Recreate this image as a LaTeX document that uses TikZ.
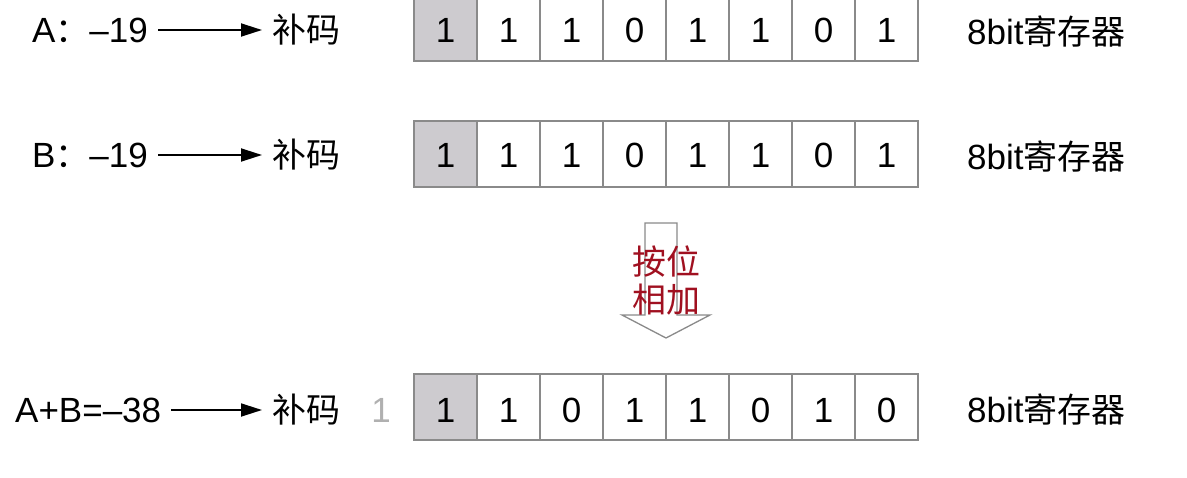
\documentclass[tikz,border=0pt]{standalone}
\usepackage{fontspec}
\setmainfont{Liberation Sans}
\newfontfamily\cjk[Scale=0.97]{Noto Sans CJK SC}
\usetikzlibrary{arrows.meta}
\definecolor{cellgray}{HTML}{CDCBCF}
\definecolor{cellline}{HTML}{8A8A8A}
\definecolor{darkred}{HTML}{A01020}
\definecolor{fadegray}{HTML}{B0B0B0}
\tikzset{
  txt/.style={inner sep=0pt, text height=25pt, text depth=0pt, font=\fontsize{35}{38}\selectfont},
  cell/.style={draw=cellline, line width=1.2pt, minimum width=63pt, minimum height=66pt, inner sep=0pt, anchor=center},
  sign/.style={cell, fill=cellgray},
  arr/.style={-{Triangle[length=21pt,width=13pt]}, line width=1.8pt, shorten <=10pt, shorten >=10pt},
}
\begin{document}
\begin{tikzpicture}[x=1pt,y=-1pt]
\useasboundingbox (0,0) rectangle (1187,477);
% row labels
\node[txt, anchor=west] (la) at (32,30) {A{\cjk ：}–19};
\node[txt, anchor=west] (lb) at (32,155) {B{\cjk ：}–19};
\node[txt, anchor=west] (lc) at (15,410) {A+B=–38};
\node[txt, anchor=west] (ba) at (272,30) {\cjk 补码};
\node[txt, anchor=west] (bb) at (272,155) {\cjk 补码};
\node[txt, anchor=west] (bc) at (272,410) {\cjk 补码};
\draw[arr] (la) -- (ba);
\draw[arr] (lb) -- (bb);
\draw[arr] (lc) -- (bc);
% registers
\foreach \v [count=\i from 0] in {1,1,1,0,1,1,0,1} {
  \ifnum\i=0
    \node[sign, minimum height=72pt] (a\i) at ({445.5+63*\i},25) {};
  \else
    \node[cell, minimum height=72pt] (a\i) at ({445.5+63*\i},25) {};
  \fi
  \node[txt] at ({445.5+63*\i},30) {\v};
}
\foreach \v [count=\i from 0] in {1,1,1,0,1,1,0,1} {
  \ifnum\i=0
    \node[sign] (b\i) at ({445.5+63*\i},154) {};
  \else
    \node[cell] (b\i) at ({445.5+63*\i},154) {};
  \fi
  \node[txt] at ({445.5+63*\i},155) {\v};
}
\foreach \v [count=\i from 0] in {1,1,0,1,1,0,1,0} {
  \ifnum\i=0
    \node[sign] (c\i) at ({445.5+63*\i},407) {};
  \else
    \node[cell] (c\i) at ({445.5+63*\i},407) {};
  \fi
  \node[txt] at ({445.5+63*\i},410) {\v};
}
\node[txt, text=fadegray] (carry) at (381,410) {1};
% register labels
\node[txt, anchor=west] (ra) at (967,32) {8bit{\cjk 寄存器}};
\node[txt, anchor=west] (rb) at (967,157) {8bit{\cjk 寄存器}};
\node[txt, anchor=west] (rc) at (967,410) {8bit{\cjk 寄存器}};
% big arrow
\draw[cellline, line width=1.3pt, fill=white, line join=miter]
  (645,223) -- (677,223) -- (677,315) -- (710,315) -- (666,338) -- (622,315) -- (645,315) -- cycle;
\node[txt, text=darkred, font=\cjk\fontsize{35}{38}\selectfont] (t1) at (666,262) {按位};
\node[txt, text=darkred, font=\cjk\fontsize{35}{38}\selectfont] (t2) at (666,300) {相加};
\end{tikzpicture}
\end{document}
